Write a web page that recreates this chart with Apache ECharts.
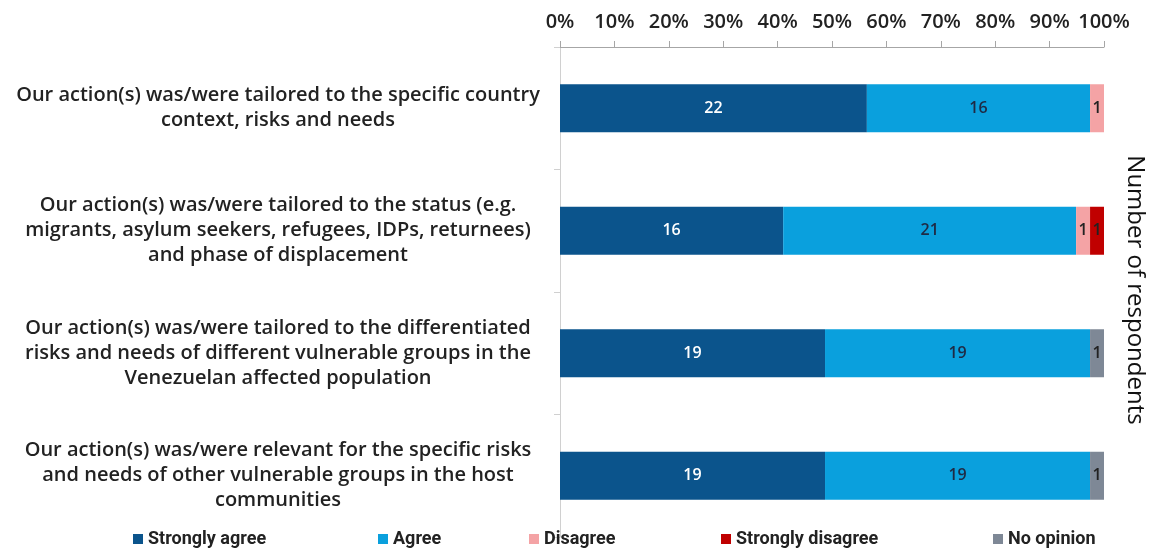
<!DOCTYPE html>
<html>
<head>
<meta charset="utf-8">
<script src="https://cdn.jsdelivr.net/npm/echarts@6/dist/echarts.min.js"></script>
<style>
  html, body { margin: 0; padding: 0; background: #fff; }
  #chart { width: 1153px; height: 554px; }
</style>
</head>
<body>
<div id="chart"></div>
<script>
// Survey statements (top to bottom)
const statements = [
  'Our action(s) was/were tailored to the specific country\ncontext, risks and needs',
  'Our action(s) was/were tailored to the status (e.g.\nmigrants, asylum seekers, refugees, IDPs, returnees)\nand phase of displacement',
  'Our action(s) was/were tailored to the differentiated\nrisks and needs of different vulnerable groups in the\nVenezuelan affected population',
  'Our action(s) was/were relevant for the specific risks\nand needs of other vulnerable groups in the host\ncommunities'
];

// Number of respondents per answer, one entry per statement
const stronglyAgree    = [22, 16, 19, 19];
const agree            = [16, 21, 19, 19];
const disagree         = [1, 1, 0, 0];
const stronglyDisagree = [0, 1, 0, 0];
const noOpinion        = [0, 0, 1, 1];

const answerNames  = ['Strongly agree', 'Agree', 'Disagree', 'Strongly disagree', 'No opinion'];
const answerCounts = [stronglyAgree, agree, disagree, stronglyDisagree, noOpinion];
const answerColors = ['#0B548C', '#0AA0DD', '#F4A3A5', '#C00000', '#7E8896'];
const labelColors  = ['#ffffff', '#1f2a44', '#222222', '#222222', '#222222'];
const legendLefts  = [128, 373, 524, 716, 988];

const percentTicks = [0, 10, 20, 30, 40, 50, 60, 70, 80, 90, 100];

// Row totals used to turn counts into shares of respondents
const totals = statements.map((_, i) => answerCounts.reduce((s, arr) => s + arr[i], 0));

const series = answerNames.map((name, k) => ({
  name,
  type: 'bar',
  stack: 'all',
  barWidth: 48,
  itemStyle: { color: answerColors[k] },
  data: answerCounts[k].map((c, i) => ({ value: c / totals[i] * 100, count: c })),
  label: {
    show: true,
    position: 'inside',
    color: labelColors[k],
    fontFamily: 'Open Sans',
    fontWeight: 600,
    fontSize: 16,
    formatter: p => (p.data.count > 0 ? String(p.data.count) : '')
  }
}));

// One legend block per answer so each entry sits at its own spot
const legends = answerNames.map((name, k) => ({
  bottom: 1,
  left: legendLefts[k],
  itemWidth: 10,
  itemHeight: 10,
  icon: 'rect',
  textStyle: {
    color: '#222',
    fontFamily: 'Roboto',
    fontWeight: 'bold',
    fontSize: 18
  },
  data: [name]
}));

const chart = echarts.init(document.getElementById('chart'), null, { renderer: 'canvas' });
chart.setOption({
  animation: false,
  backgroundColor: '#ffffff',
  grid: { left: 560, right: 49, top: 47, bottom: 17, containLabel: false },
  xAxis: {
    type: 'value',
    position: 'top',
    min: 0,
    max: 100,
    interval: 10,
    axisLine: { show: true, lineStyle: { color: '#a6a6a6', width: 1 } },
    axisTick: { show: true, length: 6, lineStyle: { color: '#a6a6a6' } },
    splitLine: { show: false },
    axisLabel: {
      margin: 15,
      color: '#222',
      fontFamily: 'Open Sans',
      fontWeight: 600,
      fontSize: 20,
      formatter: v => (percentTicks.includes(v) ? v + '%' : '')
    }
  },
  yAxis: {
    type: 'category',
    inverse: true,
    data: statements,
    axisLine: { show: true, lineStyle: { color: '#d0d0d0', width: 1 } },
    axisTick: { show: true, length: 6, lineStyle: { color: '#d0d0d0' } },
    axisLabel: {
      margin: 282,
      align: 'center',
      color: '#222',
      fontFamily: 'Open Sans',
      fontWeight: 600,
      fontSize: 20,
      lineHeight: 25
    }
  },
  legend: legends,
  graphic: [{
    type: 'text',
    x: 1135,
    y: 290,
    rotation: -Math.PI / 2,
    style: {
      text: 'Number of respondents',
      fontFamily: 'Open Sans',
      fontWeight: 500,
      fontSize: 24,
      fill: '#111',
      align: 'center',
      verticalAlign: 'middle'
    }
  }],
  series
});
</script>
</body>
</html>
